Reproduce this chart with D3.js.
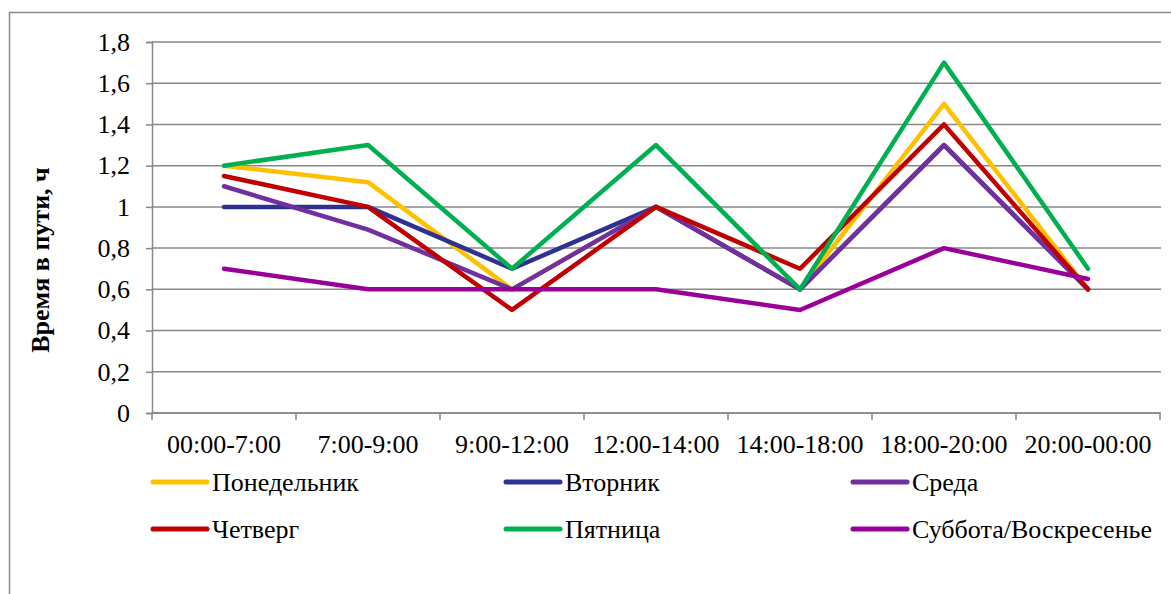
<!DOCTYPE html>
<html>
<head>
<meta charset="utf-8">
<script src="https://cdn.jsdelivr.net/npm/d3@7"></script>
<style>
  html, body { margin: 0; padding: 0; background: #fff; }
  svg { display: block; }
</style>
</head>
<body>
<svg id="chart" width="1171" height="594"></svg>
<script>
// Time-of-day intervals
const categories = ["00:00-7:00", "7:00-9:00", "9:00-12:00", "12:00-14:00", "14:00-18:00", "18:00-20:00", "20:00-00:00"];

// Travel time, hours, by day of week
const monday    = [1.2, 1.12, 0.6, 1.0, 0.6, 1.5, 0.6];
const tuesday   = [1.0, 1.0, 0.7, 1.0, 0.6, 1.3, 0.6];
const wednesday = [1.1, 0.89, 0.6, 1.0, 0.6, 1.3, 0.6];
const thursday  = [1.15, 1.0, 0.5, 1.0, 0.7, 1.4, 0.6];
const friday    = [1.2, 1.3, 0.7, 1.3, 0.6, 1.7, 0.7];
const weekend   = [0.7, 0.6, 0.6, 0.6, 0.5, 0.8, 0.65];

const seriesNames  = ["Понедельник", "Вторник", "Среда", "Четверг", "Пятница", "Суббота/Воскресенье"];
const seriesColors = ["#FFC000", "#2E3192", "#7030A0", "#C00000", "#00B050", "#990099"];
const yTicks = [0, 0.2, 0.4, 0.6, 0.8, 1.0, 1.2, 1.4, 1.6, 1.8];
const yTitle = "Время в пути, ч";

const FONT = '"Liberation Serif", "Times New Roman", serif';

const series = [monday, tuesday, wednesday, thursday, friday, weekend].map((values, i) => ({
  name: seriesNames[i], color: seriesColors[i], values
}));

const svg = d3.select("#chart");
const plot = { left: 152, right: 1160, top: 42, bottom: 413 };

// chart area frame (left and top edges)
svg.append("path")
  .attr("d", "M9.5,600 V12.5 H1171")
  .attr("fill", "none").attr("stroke", "#8c8c8c").attr("stroke-width", 1.5);

const x = d3.scaleBand().domain(categories).range([plot.left, plot.right]).padding(0);
const y = d3.scaleLinear().domain([0, 1.8]).range([plot.bottom, plot.top]);
const fmt = v => (v === 0 || v === 1) ? String(v) : d3.format(".1f")(v).replace(".", ",");

// horizontal gridlines
svg.append("g").selectAll("line").data(yTicks).join("line")
  .attr("x1", plot.left).attr("x2", plot.right + 1)
  .attr("y1", d => y(d)).attr("y2", d => y(d))
  .attr("stroke", "#878787").attr("stroke-width", 1.5);

// y axis
const yAxis = svg.append("g").attr("transform", `translate(${plot.left},0)`)
  .call(d3.axisLeft(y).tickValues(yTicks).tickFormat(fmt).tickSize(6).tickPadding(16));
yAxis.select(".domain").attr("stroke", "#878787").attr("stroke-width", 1.5);
yAxis.selectAll(".tick line").attr("stroke", "#878787").attr("stroke-width", 1.5);
yAxis.selectAll("text")
  .style("font-family", FONT).style("font-size", "26px").attr("fill", "#000");

// x axis with ticks at band boundaries
const xAxisG = svg.append("g").attr("transform", `translate(0,${plot.bottom})`);
xAxisG.append("line").attr("x1", plot.left).attr("x2", plot.right)
  .attr("stroke", "#878787").attr("stroke-width", 1.5);
const bounds = categories.map(c => x(c)).concat([plot.right]);
xAxisG.selectAll("line.tick").data(bounds).join("line").attr("class", "tick")
  .attr("x1", d => d).attr("x2", d => d).attr("y1", 0).attr("y2", 7)
  .attr("stroke", "#878787").attr("stroke-width", 1.5);
xAxisG.selectAll("text").data(categories).join("text")
  .attr("x", d => x(d) + x.bandwidth() / 2).attr("y", 40)
  .attr("text-anchor", "middle")
  .style("font-family", FONT).style("font-size", "26px").attr("fill", "#000")
  .text(d => d);

// y axis title
svg.append("text")
  .attr("transform", "translate(49,260) rotate(-90)")
  .attr("text-anchor", "middle")
  .style("font-family", FONT).style("font-size", "26px").style("font-weight", "bold")
  .attr("fill", "#000")
  .text(yTitle);

// series lines
const line = d3.line().x((d, i) => x(categories[i]) + x.bandwidth() / 2).y(d => y(d));
svg.append("g").selectAll("path").data(series).join("path")
  .attr("d", d => line(d.values))
  .attr("fill", "none").attr("stroke", d => d.color).attr("stroke-width", 4.5)
  .attr("stroke-linejoin", "round").attr("stroke-linecap", "round");

// legend: 3 columns, 2 rows
const legendCols = [153, 506, 853];
const legendRows = [482, 529];
const legend = svg.append("g").selectAll("g").data(series).join("g")
  .attr("transform", (d, i) => `translate(${legendCols[i % 3]},${legendRows[Math.floor(i / 3)]})`);
legend.append("line").attr("x1", 0).attr("x2", 54).attr("y1", 0).attr("y2", 0)
  .attr("stroke", d => d.color).attr("stroke-width", 5).attr("stroke-linecap", "round");
legend.append("text").attr("x", 59).attr("y", 9)
  .style("font-family", FONT).style("font-size", "26px").attr("fill", "#000")
  .text(d => d.name);
</script>
</body>
</html>
